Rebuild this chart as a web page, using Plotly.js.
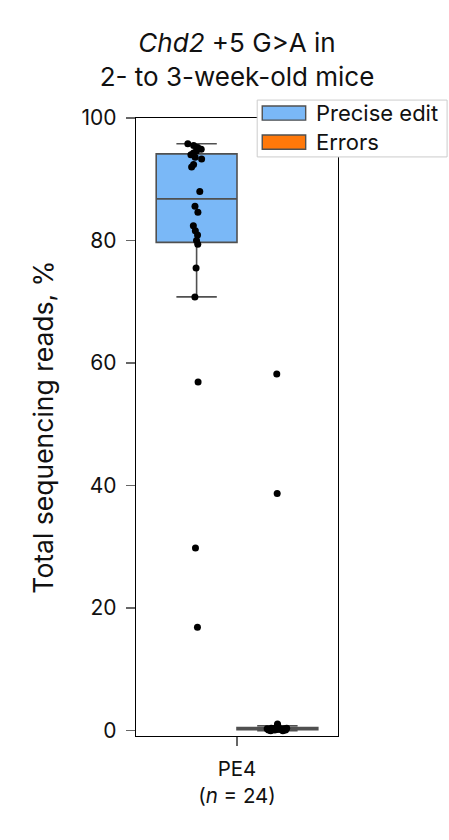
<!DOCTYPE html>
<html>
<head>
<meta charset="utf-8">
<script src="https://cdn.plot.ly/plotly-3.0.1.min.js"></script>
<style>html, body { margin: 0; padding: 0; background: #fff; }</style>
</head>
<body>
<div id="chart" style="width:449px;height:840px"></div>
<script>
// one category on x, two series per mouse (n = 24)
const category = "PE4";
const categoryLabel = "PE4<br>(<i>n</i> = 24)";
const seriesNames = ["Precise edit", "Errors"];
const seriesColors = ["#7ab8f7", "#ff780a"];

const preciseEdit = [95.8, 95.5, 95.2, 94.9, 94.6, 94.3, 94.0, 93.6, 93.3, 92.4, 92.0, 88.0,
                     85.6, 84.6, 82.4, 81.6, 80.9, 80.0, 79.4, 75.5, 70.8, 56.9, 29.8, 16.9];
const errors = [58.2, 38.7, 1.1, 0.8, 0.6, 0.5, 0.5, 0.4, 0.4, 0.4, 0.3, 0.3,
                0.3, 0.3, 0.2, 0.2, 0.2, 0.2, 0.1, 0.1, 0.1, 0.1, 0.0, 0.0];

const yTicks = [0, 20, 40, 60, 80, 100];
const yRange = [-0.87, 100];

const font = "Inter, 'Noto Sans', sans-serif";
const edgeColor = "#505050";

function boxTrace(values, name, color) {
    return {
        type: "box",
        name: name,
        x: values.map(_ => category),
        y: values,
        boxpoints: "all",
        jitter: 0.26,
        pointpos: 0,
        quartilemethod: "inclusive",
        whiskerwidth: 0.5,
        fillcolor: color,
        line: { color: edgeColor, width: 1.6 },
        marker: { color: "black", size: 7, line: { width: 0 } },
        showlegend: false,
        hoverinfo: "y"
    };
}

let traces = [
    boxTrace(preciseEdit, seriesNames[0], seriesColors[0]),
    boxTrace(errors, seriesNames[1], seriesColors[1])
];

// hand-drawn legend (wide swatches like the original), in paper coordinates
let legendShapes = [
    { type: "rect", xref: "paper", yref: "paper", x0: 0.60, x1: 1.54, y0: 0.937, y1: 1.029,
      fillcolor: "white", line: { color: "#cccccc", width: 1 }, layer: "above" }
];
let legendNotes = [];
seriesNames.forEach((name, i) => {
    let yc = 1.008 - i * 0.047;
    legendShapes.push({
        type: "rect", xref: "paper", yref: "paper", x0: 0.625, x1: 0.84, y0: yc - 0.0115, y1: yc + 0.0115,
        fillcolor: seriesColors[i], line: { color: edgeColor, width: 1.4 }, layer: "above"
    });
    legendNotes.push({
        xref: "paper", yref: "paper", x: 0.88, y: yc, xanchor: "left", yanchor: "middle",
        text: name, showarrow: false, font: { family: font, size: 22, color: "#111" }
    });
});

let layout = {
    width: 449,
    height: 840,
    margin: { l: 136, r: 111, t: 118, b: 104 },
    paper_bgcolor: "white",
    plot_bgcolor: "white",
    font: { family: font, color: "#111" },
    title: {
        text: "<i>Chd2</i> +5 G>A in<br>2- to 3-week-old mice",
        font: { family: font, size: 26, color: "#111" },
        x: 0.5, xref: "paper", xanchor: "center",
        y: 0.938, yref: "container", yanchor: "top"
    },
    boxmode: "group",
    boxgap: 0.2,
    boxgroupgap: 0,
    xaxis: {
        type: "category",
        range: [-0.5, 0.5],
        tickvals: [category],
        ticktext: [categoryLabel],
        ticks: "outside", ticklen: 9, tickwidth: 1.3, tickcolor: "#666",
        ticklabelstandoff: 5,
        tickfont: { family: font, size: 20.5, color: "#111" },
        showline: true, mirror: true, linecolor: "black", linewidth: 1.3,
        showgrid: false, zeroline: false, fixedrange: true
    },
    yaxis: {
        range: yRange,
        tickvals: yTicks,
        ticks: "outside", ticklen: 9, tickwidth: 1.3, tickcolor: "#666",
        ticklabelstandoff: 5,
        tickfont: { family: font, size: 21, color: "#111" },
        showline: true, mirror: true, linecolor: "black", linewidth: 1.3,
        showgrid: false, zeroline: false, fixedrange: true,
        title: { text: "Total sequencing reads, %", font: { family: font, size: 26.5, color: "#111" }, standoff: 20 }
    },
    shapes: legendShapes,
    annotations: legendNotes
};

Plotly.newPlot("chart", traces, layout, { displayModeBar: false, staticPlot: true });
</script>
</body>
</html>
